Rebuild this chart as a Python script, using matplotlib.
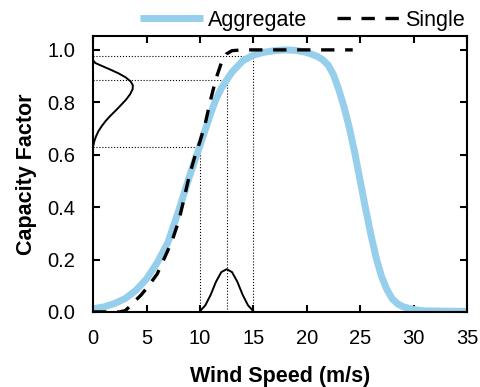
import matplotlib
matplotlib.use("Agg")
import matplotlib.pyplot as plt

plt.rcParams['font.family'] = ['Liberation Sans', 'DejaVu Sans']

# aggregate (smoothed) power curve
agg_ws = [0, 1, 2, 3, 4, 5, 6, 7, 8, 9, 10, 11, 11.5, 12, 12.5, 13, 14, 15, 16, 17, 18,
          19, 20, 21, 21.5, 22, 22.5, 23, 23.5, 24, 24.5, 25, 25.5, 26, 26.5, 27, 27.5,
          28, 28.5, 29, 30, 31, 35]
agg_cf = [0.012, 0.019, 0.032, 0.051, 0.082, 0.126, 0.188, 0.265, 0.385, 0.515, 0.635,
          0.757, 0.812, 0.853, 0.885, 0.915, 0.958, 0.980, 0.991, 0.997, 1.0,
          0.998, 0.99, 0.975, 0.962, 0.942, 0.905, 0.848, 0.78, 0.70, 0.605, 0.50,
          0.395, 0.295, 0.205, 0.135, 0.085, 0.05, 0.031, 0.02, 0.009, 0.004, 0.002]

# single turbine power curve
single_ws = [0, 2.5, 3, 3.5, 4, 4.5, 5, 5.5, 6, 6.5, 7, 7.5, 8, 8.5, 9, 9.5, 10, 10.5,
             11, 11.5, 12, 12.5, 13, 14, 24.3]
single_cf = [0, 0, 0.005, 0.023, 0.045, 0.065, 0.09, 0.117, 0.145, 0.19, 0.235, 0.285,
             0.345, 0.43, 0.52, 0.59, 0.65, 0.72, 0.81, 0.89, 0.95, 0.985, 0.997, 1.0, 1.0]

# wind speed distribution (bottom)
ws_dist_x = [10, 10.5, 11, 11.5, 12, 12.5, 13, 13.5, 14, 14.5, 15]
ws_dist_y = [0.003, 0.025, 0.065, 0.115, 0.152, 0.163, 0.152, 0.115, 0.065, 0.025, 0.003]

# resulting capacity factor distribution (left side)
cf_dist_y = [0.631, 0.65, 0.67, 0.69, 0.71, 0.73, 0.75, 0.77, 0.79, 0.81, 0.83, 0.85,
             0.865, 0.88, 0.895, 0.91, 0.925, 0.94, 0.95, 0.96]
cf_dist_x = [0.0, 0.1, 0.27, 0.5, 0.82, 1.2, 1.65, 2.15, 2.62, 3.08, 3.45, 3.7,
             3.72, 3.5, 3.05, 2.4, 1.6, 0.75, 0.2, 0.0]

# guide lines: wind speed -> capacity factor
guide_ws = [10, 12.5, 15]
guide_cf = [0.631, 0.885, 0.978]

fig = plt.figure(figsize=(4.8, 3.87), dpi=100)
ax = fig.add_axes([0.194, 0.194, 0.779, 0.713])

for w, c in zip(guide_ws, guide_cf):
    ax.plot([w, w], [0, c], color='black', linestyle=':', linewidth=0.8)
    ax.plot([0, w], [c, c], color='black', linestyle=':', linewidth=0.8)

ax.plot(agg_ws, agg_cf, color='#95cfeb', linewidth=5, solid_capstyle='butt', label='Aggregate')
ax.plot(single_ws, single_cf, color='black', linewidth=2.4, dashes=(4, 3.2), label='Single')
ax.plot(ws_dist_x, ws_dist_y, color='black', linewidth=1.4)
ax.plot(cf_dist_x, cf_dist_y, color='black', linewidth=1.4)

ax.set_xlim(0, 35)
ax.set_ylim(0, 1.053)
ax.set_xticks(range(0, 36, 5))
ax.set_yticks([0, 0.2, 0.4, 0.6, 0.8, 1.0])
ax.set_yticklabels(['0.0', '0.2', '0.4', '0.6', '0.8', '1.0'])
ax.tick_params(direction='in', top=True, right=True, length=5, width=1.5, labelsize=14.5)
ax.tick_params(axis='x', pad=12)
ax.tick_params(axis='y', pad=13)
for s in ax.spines.values():
    s.set_linewidth(1.5)

ax.set_xlabel('Wind Speed (m/s)', fontsize=15.5, fontweight='bold', labelpad=13)
ax.set_ylabel('Capacity Factor', fontsize=15.5, fontweight='bold', labelpad=7)

ax.legend(loc='lower center', bbox_to_anchor=(0.56, 1.003), ncol=2, frameon=False,
          fontsize=15.5, handlelength=2.9, handletextpad=0.25, columnspacing=1.4,
          borderaxespad=0, borderpad=0.2)

fig.savefig('out.png', dpi=100)
